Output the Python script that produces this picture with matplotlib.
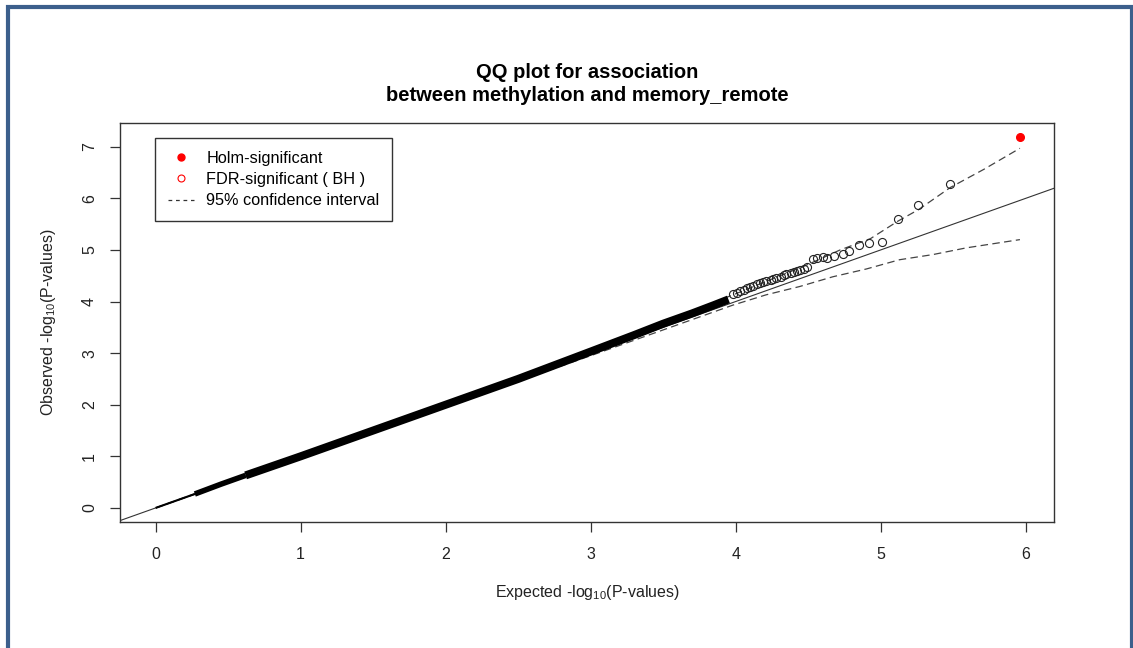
import numpy as np
import matplotlib.pyplot as plt
from matplotlib.lines import Line2D

plt.rcParams['font.family'] = ['Liberation Sans', 'DejaVu Sans']
plt.rcParams['mathtext.fontset'] = 'custom'
plt.rcParams['mathtext.rm'] = 'Liberation Sans'

# dense cloud of points, read along its centre (expected, observed)
start_x = [0.0, 0.27]
start_y = [0.0, 0.27]
mid_x = [0.27, 0.45, 0.62]
mid_y = [0.27, 0.46, 0.63]
band_x = [0.62, 1.0, 1.5, 2.0, 2.5, 3.0, 3.3, 3.5, 3.7, 3.85, 3.95]
band_y = [0.63, 1.0, 1.5, 2.0, 2.5, 3.03, 3.35, 3.57, 3.77, 3.93, 4.04]

# sparse tail, FDR-significant points (open circles)
tail_x = [3.98, 4.01, 4.03, 4.06, 4.08, 4.10, 4.12, 4.15, 4.17, 4.19, 4.21, 4.24,
          4.26, 4.28, 4.31, 4.33, 4.35, 4.38, 4.40, 4.42, 4.44, 4.47, 4.49,
          4.53, 4.56, 4.60, 4.63, 4.68, 4.74, 4.78, 4.85, 4.92, 5.01,
          5.12, 5.26, 5.48]
tail_y = [4.15, 4.17, 4.20, 4.23, 4.26, 4.28, 4.30, 4.33, 4.35, 4.38, 4.40, 4.42,
          4.44, 4.46, 4.48, 4.51, 4.53, 4.55, 4.57, 4.59, 4.61, 4.64, 4.67,
          4.82, 4.85, 4.87, 4.85, 4.89, 4.93, 4.98, 5.10, 5.13, 5.15,
          5.59, 5.87, 6.28]

# Holm-significant point
holm_x = [5.96]
holm_y = [7.18]

# 95% confidence band
ci_up_x = [0.0, 1.0, 2.0, 3.0, 3.5, 4.0, 4.5, 4.72, 4.93, 5.12, 5.26, 5.48, 5.71, 5.96]
ci_up_y = [0.0, 1.02, 2.03, 3.07, 3.60, 4.15, 4.72, 5.00, 5.22, 5.56, 5.78, 6.21, 6.56, 6.97]
ci_lo_x = [0.0, 1.0, 2.0, 3.0, 3.43, 3.75, 3.98, 4.21, 4.44, 4.67, 4.90, 5.13, 5.36, 5.59, 5.96]
ci_lo_y = [0.0, 0.98, 1.97, 2.95, 3.38, 3.70, 3.93, 4.13, 4.29, 4.48, 4.63, 4.81, 4.91, 5.04, 5.20]

x_ticks = [0, 1, 2, 3, 4, 5, 6]
y_ticks = [0, 1, 2, 3, 4, 5, 6, 7]

W, H = 1133, 648
fig = plt.figure(figsize=(W / 100, H / 100), dpi=100)
ax = fig.add_axes([120 / W, 1 - 522 / H, (1054 - 120) / W, (522 - 123) / H])

dash = (6, 3.5)
ink = '#333333'

ax.axline((0, 0), slope=1, color=ink, lw=0.8)
ax.plot(ci_up_x, ci_up_y, color='#444444', lw=0.9, dashes=dash)
ax.plot(ci_lo_x, ci_lo_y, color='#444444', lw=0.9, dashes=dash)

ax.plot(start_x, start_y, color='black', lw=1.5, solid_capstyle='butt')
ax.plot(mid_x, mid_y, color='black', lw=4.0, solid_capstyle='butt')
ax.plot(band_x, band_y, color='black', lw=5.8, solid_capstyle='butt')

ax.plot(tail_x, tail_y, ls='none', marker='o', ms=5.8, mfc='none', mec='#222222', mew=0.8)
ax.plot(holm_x, holm_y, ls='none', marker='o', ms=5.5, mfc='red', mec='red')

ax.set_xlim(-0.246, 6.195)
ax.set_ylim(-0.273, 7.46)
ax.set_xticks(x_ticks)
ax.set_yticks(y_ticks)
ax.tick_params(direction='out', length=7.5, width=0.9, color=ink, labelcolor='#222222',
               labelsize=11.5, pad=9)
ax.tick_params(axis='x', pad=10.5)
for lab in ax.get_yticklabels():
    lab.set_rotation(90)
    lab.set_va('center')
for sp in ax.spines.values():
    sp.set_color(ink)
    sp.set_linewidth(1.0)

fig.text(587 / W, 1 - 592 / H, r'Expected -log$_{10}$(P-values)', ha='center', va='center',
         fontsize=11.5, color='#222222')
fig.text(48 / W, 1 - 322 / H, r'Observed -log$_{10}$(P-values)', ha='center', va='center',
         rotation=90, fontsize=11.5, color='#222222')
fig.text(587 / W, 1 - 84 / H, 'QQ plot for association\nbetween methylation and memory_remote',
         ha='center', va='center', fontsize=14.5, fontweight='bold', linespacing=1.25)

handles = [
    Line2D([], [], ls='none', marker='o', ms=5, mfc='red', mec='red'),
    Line2D([], [], ls='none', marker='o', ms=5, mfc='none', mec='red', mew=0.8),
    Line2D([], [], color='#333333', lw=0.9, dashes=(3, 3)),
]
labels = ['Holm-significant', 'FDR-significant ( BH )', '95% confidence interval']
leg = ax.legend(handles, labels, loc='upper left', bbox_to_anchor=(0.0375, 0.9624),
                borderaxespad=0, fontsize=11.7, frameon=True, fancybox=False,
                edgecolor='black', handlelength=1.6, handletextpad=0.75,
                labelspacing=0.38, borderpad=0.8)
leg.get_frame().set_linewidth(1.0)

# blue frame round the screenshot
blue = '#3c5f8c'
fig.add_artist(Line2D([8 / W, 8 / W, 1131.5 / W, 1131.5 / W],
                      [0, 1 - 7 / H, 1 - 7 / H, 0],
                      transform=fig.transFigure, color=blue, lw=3, solid_joinstyle='miter'))

fig.savefig('out.png', dpi=100)
